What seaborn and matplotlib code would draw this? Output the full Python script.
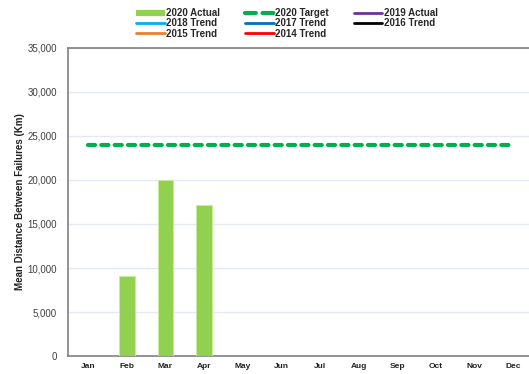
import matplotlib.pyplot as plt
import matplotlib.ticker as mticker
from matplotlib.lines import Line2D
import seaborn as sns
import pandas as pd
import numpy as np

# chart data
months = ['Jan', 'Feb', 'Mar', 'Apr', 'May', 'Jun', 'Jul', 'Aug', 'Sep', 'Oct', 'Nov', 'Dec']
actual_2020 = [np.nan, 9100, 20000, 17200, np.nan, np.nan, np.nan, np.nan, np.nan, np.nan, np.nan, np.nan]
target_2020 = [24000] * 12

legend_labels = ['2020 Actual', '2020 Target', '2019 Actual',
                 '2018 Trend', '2017 Trend', '2016 Trend',
                 '2015 Trend', '2014 Trend']
legend_colors = ['#92d050', '#00b050', '#7030a0',
                 '#00b0f0', '#0070c0', '#000000',
                 '#ed7d31', '#ff0000']

sns.set_style('white')
plt.rcParams['font.family'] = ['Liberation Sans', 'DejaVu Sans']

df = pd.DataFrame({'month': months, 'actual': actual_2020})

fig = plt.figure(figsize=(5.29, 3.74), dpi=100)
ax = fig.add_axes([0.1285, 0.0481, 0.8715, 0.8236])

sns.barplot(data=df, x='month', y='actual', order=months, color='#92d050',
            width=0.4, saturation=1, edgecolor='#c8ec9c', linewidth=0.6, ax=ax, zorder=3)
ax.plot(range(len(months)), target_2020, color='#00b050', lw=3,
        dashes=(1.7, 1.5), dash_capstyle='round', zorder=4)

ax.set_xlim(-0.52, 11.4)
ax.set_ylim(0, 35000)
ax.yaxis.set_major_locator(mticker.MultipleLocator(5000))
ax.yaxis.set_major_formatter(mticker.StrMethodFormatter('{x:,.0f}'))
ax.grid(axis='y', color='#e4e8f4', lw=1, zorder=0)
ax.set_axisbelow(True)

for side in ['left', 'bottom', 'top']:
    ax.spines[side].set_color('#808080')
    ax.spines[side].set_linewidth(1.2)
ax.spines['right'].set_visible(False)

ax.tick_params(axis='y', labelsize=7, colors='#404040', length=0, pad=8)
ax.tick_params(axis='x', labelsize=6, length=0, pad=5)
for lbl in ax.get_xticklabels():
    lbl.set_fontweight('bold')
    lbl.set_color('#222222')

ax.set_xlabel('')
ax.set_ylabel('Mean Distance Between Failures (Km)', fontsize=7, fontweight='bold',
              color='#222222', labelpad=2)

# legend handles, ordered so columns read row-wise like the original
handles = {}
for lab, col in zip(legend_labels, legend_colors):
    if lab == '2020 Actual':
        handles[lab] = Line2D([], [], color=col, lw=4.5, solid_capstyle='butt')
    elif lab == '2020 Target':
        handles[lab] = Line2D([], [], color=col, lw=3, dashes=(2.6, 1.6),
                              dash_capstyle='round')
    else:
        handles[lab] = Line2D([], [], color=col, lw=2)
order = ['2020 Actual', '2018 Trend', '2015 Trend',
         '2020 Target', '2017 Trend', '2014 Trend',
         '2019 Actual', '2016 Trend']
leg = fig.legend([handles[k] for k in order], order, ncol=3, loc='upper left',
                 bbox_to_anchor=(0.245, 0.997), frameon=False,
                 prop={'size': 7, 'weight': 'bold'}, handlelength=2.9,
                 handletextpad=0.15, columnspacing=2.6, labelspacing=0.05,
                 borderpad=0.2)

fig.savefig('out.png', dpi=100)
